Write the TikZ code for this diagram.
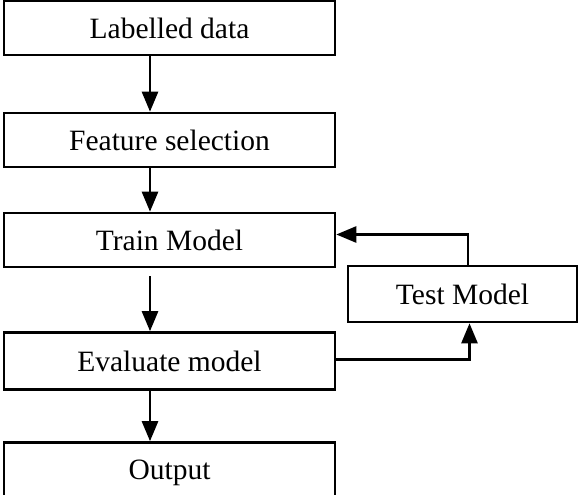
\documentclass[tikz,border=0pt]{standalone}
\usepackage{fontspec}
\setmainfont{Liberation Serif}
\usetikzlibrary{arrows.meta,positioning,calc}
\tikzstyle{block} = [draw, rectangle, line width=2.6pt, minimum height=54pt, minimum width=331pt, inner sep=0pt, font=\fontsize{29.5}{34}\selectfont]
\tikzstyle{line} = [line width=2.6pt]

\begin{document}
\begin{tikzpicture}[auto, node distance=2cm, >={Triangle[length=20pt,width=16pt]}]
    \useasboundingbox (0,0) rectangle (578pt,-495pt);
    % Main chain
    \node [block] (data) at (169.5pt,-28pt) {Labelled data};
    \node [block, below of=data, node distance=112pt] (feature) {Feature selection};
    \node [block, below of=feature, node distance=100pt] (train) {Train Model};
    \node [block, below of=train, node distance=121pt, minimum height=57pt] (evaluate) {Evaluate model};
    \node [block, below of=evaluate, node distance=111.5pt, minimum height=60pt] (output) {Output};
    % Test box
    \node [block, minimum width=229pt, minimum height=56pt] (test) at (462.5pt,-294pt) {Test Model};
    
    % Connections
    \draw [->, line] ([xshift=-19.5pt]data.south) -- ([xshift=-19.5pt]feature.north);
    \draw [->, line] ([xshift=-19.5pt]feature.south) -- ([xshift=-19.5pt]train.north);
    \draw [->, line] ([xshift=-19.5pt,yshift=-8pt]train.south) -- ([xshift=-19.5pt]evaluate.north);
    \draw [->, line] ([xshift=-19.5pt]evaluate.south) -- ([xshift=-19.5pt]output.north);
    \draw [->, line] ([yshift=1.5pt]evaluate.east) -| ([xshift=7pt]test.south);
    \draw [->, line] ([xshift=5.5pt]test.north) |- ([yshift=5.5pt]train.east);
\end{tikzpicture}
\end{document}
